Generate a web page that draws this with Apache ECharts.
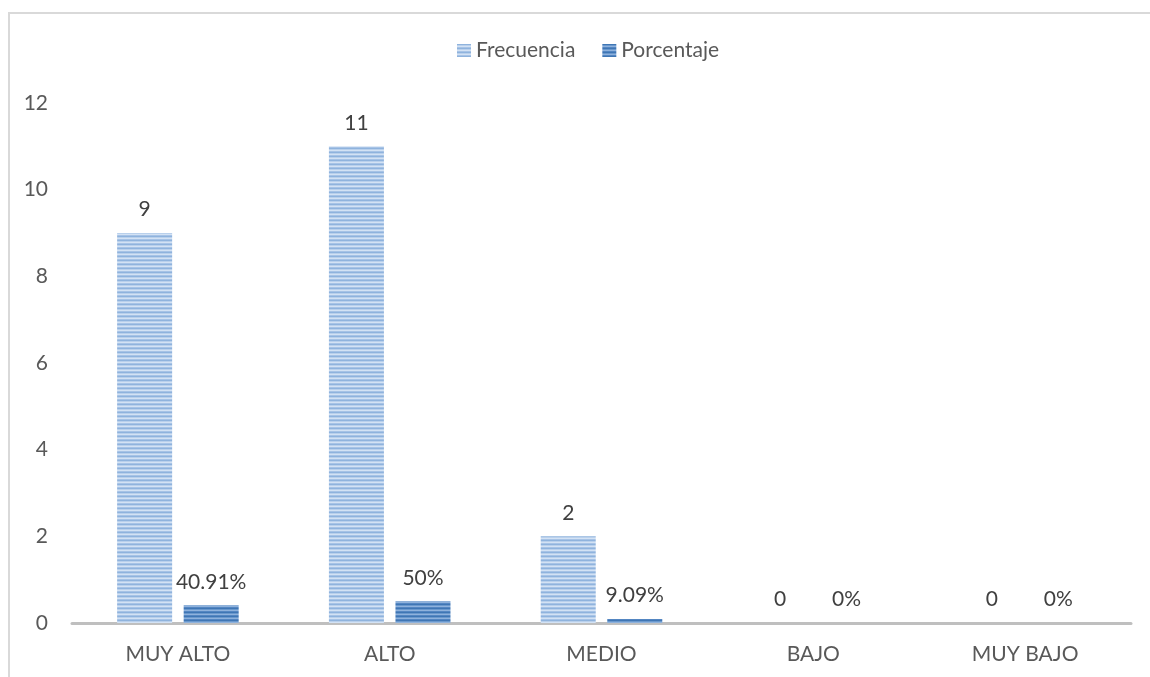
<!DOCTYPE html>
<html>
<head>
<meta charset="utf-8">
<script src="https://cdn.jsdelivr.net/npm/echarts@6/dist/echarts.min.js"></script>
<style>
html,body{margin:0;padding:0;background:#fff;}
#c{width:1150px;height:677px;}
</style>
</head>
<body>
<div id="c"></div>
<script>
const categories = ['MUY ALTO', 'ALTO', 'MEDIO', 'BAJO', 'MUY BAJO'];
const frecuencia = [9, 11, 2, 0, 0];
const porcentaje = [0.4091, 0.5, 0.0909, 0, 0];
const yTicks = { min: 0, max: 12, interval: 2 };

function stripes(rows) {
  const cv = document.createElement('canvas');
  cv.width = 4; cv.height = rows.length;
  const ctx = cv.getContext('2d');
  rows.forEach((c, i) => { ctx.fillStyle = c; ctx.fillRect(0, i, 4, 1); });
  return cv;
}
const patA = stripes(['#8fb3dd', '#b9d0ec', '#d3e2f4', '#a7c3e6']);
const patB = stripes(['#3f76b4', '#6a98cd', '#8fb2dc', '#5486c2']);

const chart = echarts.init(document.getElementById('c'), null, { renderer: 'canvas' });
const font = 'Lato, "Open Sans", sans-serif';
chart.setOption({
  backgroundColor: '#ffffff',
  animation: false,
  textStyle: { fontFamily: font, color: '#595959' },
  graphic: [{
    type: 'rect', left: 8, top: 12, z: -1,
    shape: { width: 1200, height: 720 },
    style: { fill: 'transparent', stroke: '#d9d9d9', lineWidth: 2 }
  }],
  legend: {
    top: 35, left: 452, icon: 'rect',
    itemWidth: 14, itemHeight: 13, itemGap: 27,
    textStyle: { fontSize: 21, color: '#595959', fontFamily: font },
    data: ['Frecuencia', 'Porcentaje']
  },
  grid: { left: 72, right: 19, top: 103, bottom: 54, containLabel: false },
  xAxis: {
    type: 'category', data: categories,
    axisLine: { lineStyle: { color: '#bfbfbf', width: 3 } },
    axisTick: { show: false },
    axisLabel: { fontSize: 21, color: '#595959', margin: 21, fontFamily: font }
  },
  yAxis: {
    type: 'value', min: yTicks.min, max: yTicks.max, interval: yTicks.interval,
    axisLine: { show: false }, axisTick: { show: false },
    splitLine: { show: false },
    axisLabel: { fontSize: 21, color: '#595959', margin: 24, fontFamily: font }
  },
  series: [
    {
      name: 'Frecuencia', type: 'bar', data: frecuencia,
      barWidth: 55, barGap: '21%',
      itemStyle: { color: { image: patA, repeat: 'repeat' } },
      label: { show: true, position: 'top', distance: 13, fontSize: 21, color: '#404040', fontFamily: font }
    },
    {
      name: 'Porcentaje', type: 'bar', data: porcentaje,
      barWidth: 55,
      itemStyle: { color: { image: patB, repeat: 'repeat' } },
      label: {
        show: true, position: 'top', distance: 13, fontSize: 21, color: '#404040', fontFamily: font,
        formatter: p => (Math.round(p.value * 10000) / 100) + '%'
      }
    }
  ]
});
</script>
</body>
</html>
